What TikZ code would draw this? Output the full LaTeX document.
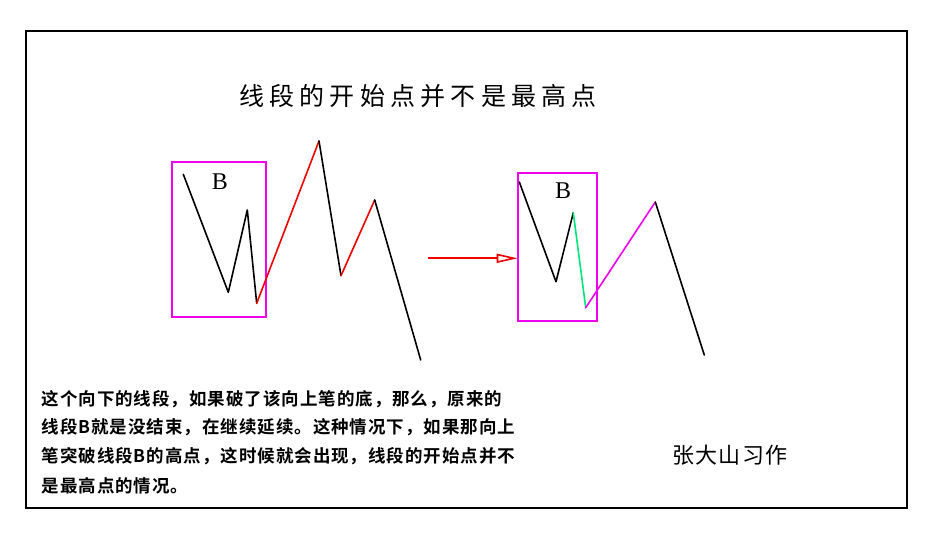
\documentclass[tikz,border=0pt]{standalone}
\usepackage{fontspec}
\setmainfont{Liberation Serif}
\newfontfamily\cjk{Noto Sans CJK SC}[BoldFont={Noto Sans CJK SC Bold}]
\usetikzlibrary{arrows.meta}
\definecolor{boxmag}{RGB}{240,0,240}
\definecolor{segred}{RGB}{240,0,0}
\definecolor{seggreen}{RGB}{0,230,120}
\tikzset{
  seg/.style={line width=1.6pt, line join=round, line cap=round},
  bbox/.style={draw=boxmag, line width=1.8pt},
  bodytext/.style={anchor=west, inner sep=0pt, font=\cjk\fontsize{17.5}{20}\selectfont\bfseries\addfontfeature{LetterSpace=5.5}},
}
\begin{document}
\begin{tikzpicture}[x=1pt,y=-1pt]
\useasboundingbox (0,0) rectangle (950,537);
\fill[white] (0,0) rectangle (950,537);
% outer frame
\draw[line width=2pt] (25.7,30.7) rectangle (907.3,508.3);
% title
\node[inner sep=0pt, font=\cjk\fontsize{25}{28}\selectfont\addfontfeature{LetterSpace=21}] (title) at (418,96) {线段的开始点并不是最高点};
% left diagram
\coordinate (a1) at (183.3,174.3);
\coordinate (a2) at (228.3,292.3);
\coordinate (a3) at (247.3,210);
\coordinate (a4) at (256.7,303.3);
\coordinate (a5) at (319,141);
\coordinate (a6) at (341,275.7);
\coordinate (a7) at (374.7,200);
\coordinate (a8) at (420.7,360);
\draw[bbox] (172.3,161.7) rectangle (266,317.3);
\node[font=\fontsize{24}{26}\selectfont, inner sep=0pt] (bl) at (220,182) {B};
\draw[seg] (a1) -- (a2) -- (a3) -- (a4);
\draw[seg, segred] (a4) -- (a5);
\draw[seg] (a5) -- (a6);
\draw[seg, segred] (a6) -- (a7);
\draw[seg] (a7) -- (a8);
% arrow
\coordinate (arrS) at (428.3,258.3);
\coordinate (arrE) at (517.7,258.3);
\draw[segred, line width=1.6pt, -{Triangle[open, length=21pt, width=9pt, fill=white]}] (arrS) -- (arrE);
% right diagram
\coordinate (b1) at (519.3,182);
\coordinate (b2) at (556,281.7);
\coordinate (b3) at (573.3,212.7);
\coordinate (b4) at (585.7,307.7);
\coordinate (b5) at (655.3,202);
\coordinate (b6) at (704.3,355);
\draw[bbox] (517.7,173.3) rectangle (597.3,321);
\node[font=\fontsize{24}{26}\selectfont, inner sep=0pt] (br) at (563,191) {B};
\draw[seg] (b1) -- (b2) -- (b3);
\draw[seg, seggreen] (b3) -- (b4);
\draw[seg, boxmag] (b4) -- (b5);
\draw[seg] (b5) -- (b6);
% body text
\node[bodytext] (l1) at (41.5,399) {这个向下的线段，如果破了该向上笔的底，那么，原来的};
\node[bodytext] (l2) at (41.5,427.5) {线段B就是没结束，在继续延续。这种情况下，如果那向上};
\node[bodytext] (l3) at (41.5,456.5) {笔突破线段B的高点，这时候就会出现，线段的开始点并不};
\node[bodytext] (l4) at (41.5,485.5) {是最高点的情况。};
% signature
\node[inner sep=0pt, font=\cjk\fontsize{22}{24}\selectfont\addfontfeature{LetterSpace=5}] (sig) at (730,455) {张大山习作};
\end{tikzpicture}
\end{document}
